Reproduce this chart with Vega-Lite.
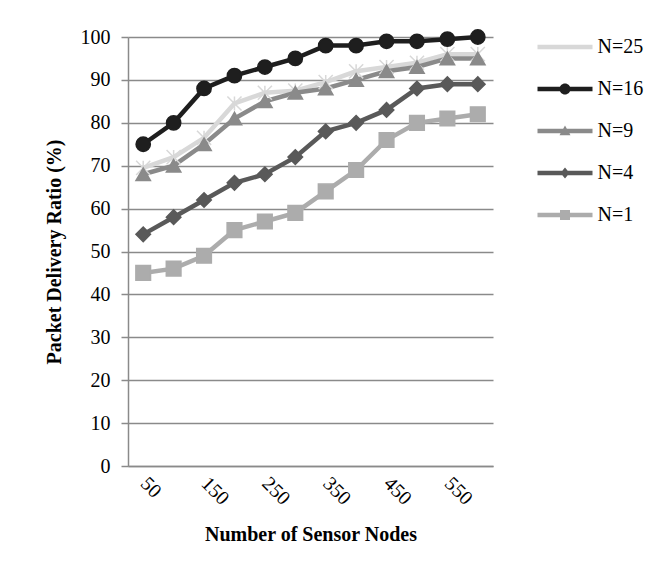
{
  "$schema": "https://vega.github.io/schema/vega-lite/v6.json",
  "width": 365,
  "height": 429,
  "autosize": "none",
  "padding": {"left": 128, "top": 37, "right": 176, "bottom": 112},
  "background": "white",
  "config": {
    "view": {"stroke": null},
    "font": "Liberation Serif",
    "axis": {"labelFont": "Liberation Serif", "titleFont": "Liberation Serif", "labelColor": "black", "titleColor": "black"},
    "legend": {"labelFont": "Liberation Serif", "labelFontSize": 20, "labelColor": "black"}
  },
  "data": {
    "values": [
      {"series": "N=25", "nodes": 50, "pdr": 69.5}, {"series": "N=25", "nodes": 100, "pdr": 72}, {"series": "N=25", "nodes": 150, "pdr": 76.5}, {"series": "N=25", "nodes": 200, "pdr": 84.5}, {"series": "N=25", "nodes": 250, "pdr": 87}, {"series": "N=25", "nodes": 300, "pdr": 87.5}, {"series": "N=25", "nodes": 350, "pdr": 89.5}, {"series": "N=25", "nodes": 400, "pdr": 92}, {"series": "N=25", "nodes": 450, "pdr": 93}, {"series": "N=25", "nodes": 500, "pdr": 94}, {"series": "N=25", "nodes": 550, "pdr": 96}, {"series": "N=25", "nodes": 600, "pdr": 96},
      {"series": "N=16", "nodes": 50, "pdr": 75}, {"series": "N=16", "nodes": 100, "pdr": 80}, {"series": "N=16", "nodes": 150, "pdr": 88}, {"series": "N=16", "nodes": 200, "pdr": 91}, {"series": "N=16", "nodes": 250, "pdr": 93}, {"series": "N=16", "nodes": 300, "pdr": 95}, {"series": "N=16", "nodes": 350, "pdr": 98}, {"series": "N=16", "nodes": 400, "pdr": 98}, {"series": "N=16", "nodes": 450, "pdr": 99}, {"series": "N=16", "nodes": 500, "pdr": 99}, {"series": "N=16", "nodes": 550, "pdr": 99.5}, {"series": "N=16", "nodes": 600, "pdr": 100},
      {"series": "N=9", "nodes": 50, "pdr": 68}, {"series": "N=9", "nodes": 100, "pdr": 70}, {"series": "N=9", "nodes": 150, "pdr": 75}, {"series": "N=9", "nodes": 200, "pdr": 81}, {"series": "N=9", "nodes": 250, "pdr": 85}, {"series": "N=9", "nodes": 300, "pdr": 87}, {"series": "N=9", "nodes": 350, "pdr": 88}, {"series": "N=9", "nodes": 400, "pdr": 90}, {"series": "N=9", "nodes": 450, "pdr": 92}, {"series": "N=9", "nodes": 500, "pdr": 93}, {"series": "N=9", "nodes": 550, "pdr": 95}, {"series": "N=9", "nodes": 600, "pdr": 95},
      {"series": "N=4", "nodes": 50, "pdr": 54}, {"series": "N=4", "nodes": 100, "pdr": 58}, {"series": "N=4", "nodes": 150, "pdr": 62}, {"series": "N=4", "nodes": 200, "pdr": 66}, {"series": "N=4", "nodes": 250, "pdr": 68}, {"series": "N=4", "nodes": 300, "pdr": 72}, {"series": "N=4", "nodes": 350, "pdr": 78}, {"series": "N=4", "nodes": 400, "pdr": 80}, {"series": "N=4", "nodes": 450, "pdr": 83}, {"series": "N=4", "nodes": 500, "pdr": 88}, {"series": "N=4", "nodes": 550, "pdr": 89}, {"series": "N=4", "nodes": 600, "pdr": 89},
      {"series": "N=1", "nodes": 50, "pdr": 45}, {"series": "N=1", "nodes": 100, "pdr": 46}, {"series": "N=1", "nodes": 150, "pdr": 49}, {"series": "N=1", "nodes": 200, "pdr": 55}, {"series": "N=1", "nodes": 250, "pdr": 57}, {"series": "N=1", "nodes": 300, "pdr": 59}, {"series": "N=1", "nodes": 350, "pdr": 64}, {"series": "N=1", "nodes": 400, "pdr": 69}, {"series": "N=1", "nodes": 450, "pdr": 76}, {"series": "N=1", "nodes": 500, "pdr": 80}, {"series": "N=1", "nodes": 550, "pdr": 81}, {"series": "N=1", "nodes": 600, "pdr": 82}
    ]
  },
  "encoding": {
    "x": {
      "field": "nodes", "type": "ordinal",
      "scale": {"type": "point", "padding": 0.5},
      "axis": {
        "title": "Number of Sensor Nodes",
        "values": [50, 150, 250, 350, 450, 550],
        "labelAngle": 45,
        "labelFontSize": 20,
        "labelPadding": 7,
        "labelOffset": 7,
        "ticks": false,
        "domainColor": "#8a8a8a",
        "domainWidth": 1.5,
        "titleFontSize": 20,
        "titleFontWeight": "bold",
        "titlePadding": 16
      }
    },
    "y": {
      "field": "pdr", "type": "quantitative",
      "scale": {"domain": [0, 100], "nice": false},
      "axis": {
        "title": "Packet Delivery Ratio (%)",
        "values": [0, 10, 20, 30, 40, 50, 60, 70, 80, 90, 100],
        "labelFontSize": 20,
        "labelPadding": 11,
        "tickSize": 7,
        "tickColor": "#8a8a8a",
        "tickWidth": 1.5,
        "grid": true,
        "gridColor": "#8a8a8a",
        "gridWidth": 1.5,
        "gridOpacity": 1,
        "domainColor": "#8a8a8a",
        "domainWidth": 1.5,
        "titleFontSize": 20,
        "titleFontWeight": "bold",
        "titlePadding": 16
      }
    },
    "color": {
      "field": "series", "type": "nominal",
      "scale": {"domain": ["N=25", "N=16", "N=9", "N=4", "N=1"], "range": ["#d8d8d8", "#1e1e1e", "#8a8a8a", "#595959", "#acacac"]},
      "legend": {
        "title": null, "orient": "right", "offset": 61.5,
        "labelFont": "Liberation Serif", "labelFontSize": 20, "labelColor": "black",
        "labelOffset": 22.5, "symbolSize": 400, "symbolStrokeWidth": 0, "symbolOpacity": 1,
        "rowPadding": 22,
        "encode": {
          "symbols": {
            "update": {
              "shape": {"signal": "datum.value === 'N=16' ? 'M-2.75,-0.22H2.75V0.22H-2.75Z M-0.55,0A0.55,0.55 0 1,1 0.55,0A0.55,0.55 0 1,1 -0.55,0Z' : datum.value === 'N=9' ? 'M-2.75,-0.22H2.75V0.22H-2.75Z M0,-0.55L0.55,0.42L-0.55,0.42Z' : datum.value === 'N=4' ? 'M-2.75,-0.22H2.75V0.22H-2.75Z M0,-0.55L0.45,0L0,0.55L-0.45,0Z' : datum.value === 'N=1' ? 'M-2.75,-0.22H2.75V0.22H-2.75Z M-0.5,-0.5H0.5V0.5H-0.5Z' : 'M-2.75,-0.22H2.75V0.22H-2.75Z'"},
              "fill": {"scale": "color", "field": "value"},
              "strokeWidth": {"value": 0},
              "opacity": {"value": 1}
            }
          }
        }
      }
    }
  },
  "layer": [
    {
      "mark": {"type": "line", "strokeWidth": 4.5}
    },
    {
      "mark": {"type": "point", "filled": true, "opacity": 1, "strokeWidth": 1.5},
      "encoding": {
        "stroke": {
          "field": "series", "type": "nominal",
          "scale": {"domain": ["N=1", "N=4", "N=9", "N=16", "N=25"], "range": ["#acacac", "#595959", "#8a8a8a", "#1e1e1e", "#d8d8d8"]},
          "legend": null
        },
        "shape": {
          "field": "series", "type": "nominal",
          "scale": {"domain": ["N=1", "N=4", "N=9", "N=16", "N=25"], "range": ["square", "diamond", "triangle-up", "circle", "M-1,-1L1,1M-1,1L1,-1M0,-1L0,1"]},
          "legend": null
        },
        "size": {
          "field": "series", "type": "nominal",
          "scale": {"domain": ["N=1", "N=4", "N=9", "N=16", "N=25"], "range": [215, 200, 230, 160, 150]},
          "legend": null
        }
      }
    }
  ]
}
